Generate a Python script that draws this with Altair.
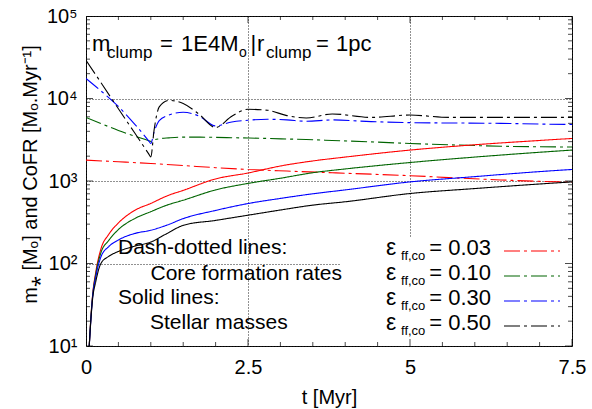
import altair as alt
import pandas as pd

FONT = "Liberation Sans"

EPS = ["0.03", "0.10", "0.30", "0.50"]
COLORS = ["#ff0000", "#006400", "#0000ff", "#000000"]

# Core formation rates (dash-dotted)
T_RATE_RED = [0, 0.5, 1.0, 1.5, 2.0, 2.5, 3.1, 3.8, 4.4, 5.0, 5.6, 6.4, 7.0, 7.5]
RATE_RED = [1790, 1710, 1630, 1540, 1450, 1380, 1320, 1260, 1210, 1160, 1100, 1030, 990, 970]

T_RATE = [0, 0.25, 0.5, 0.75, 0.97, 1.0, 1.05, 1.13, 1.28, 1.5, 1.75, 2.0,
          2.25, 2.5, 2.8, 3.1, 3.4, 3.8, 4.4, 5.0, 5.6, 6.4, 7.0, 7.5]
RATE_GREEN = [5900, 4900, 4100, 3500, 3080, 3020, 3150, 3250, 3330, 3400, 3400, 3380,
              3350, 3320, 3280, 3230, 3180, 3100, 2980, 2850, 2750, 2640, 2600, 2580]
RATE_BLUE = [17500, 12000, 8000, 4900, 3050, 2850, 3900, 5400, 6300, 6800, 6100, 4650,
             5200, 5450, 5600, 5500, 5300, 5500, 5250, 5100, 5050, 5000, 4900, 4850]
RATE_BLACK = [29000, 14800, 7500, 3840, 2120, 1960, 4100, 7900, 9500, 8700, 6400, 4450,
              6100, 7400, 7200, 6200, 5800, 6500, 5900, 6300, 5900, 5900, 5900, 5900]

# Stellar masses (solid)
T_MASS = [0.05, 0.07, 0.1, 0.15, 0.23, 0.35, 0.5, 0.75, 1.0, 1.25, 1.5, 2.0,
          2.5, 3.0, 3.5, 4.0, 5.0, 6.0, 7.0, 7.5]
MASS_RED = [10, 19, 40, 78, 150, 225, 310, 440, 535, 660, 770, 1060,
            1250, 1520, 1750, 1950, 2370, 2750, 3100, 3280]
MASS_GREEN = [10, 19, 39, 74, 135, 190, 258, 350, 425, 510, 585, 780,
              935, 1080, 1260, 1400, 1675, 1950, 2230, 2370]
MASS_BLUE = [10, 18, 38, 68, 120, 160, 193, 231, 253, 292, 350, 440,
             533, 615, 700, 780, 975, 1130, 1300, 1380]
MASS_BLACK = [10, 18, 36, 60, 100, 122, 140, 162, 182, 231, 290, 333,
              385, 445, 510, 560, 705, 810, 920, 975]

X_TICKS = [0, 2.5, 5, 7.5]
X_MINOR = [0.5, 1, 1.5, 2, 3, 3.5, 4, 4.5, 5.5, 6, 6.5, 7]
Y_TICKS = [10, 100, 1000, 10000, 100000]
Y_MINOR = [m * 10 ** k for k in range(1, 5) for m in range(2, 10)]

rows = []
def add(eps, kind, ts, vs):
    for t, v in zip(ts, vs):
        rows.append({"eps": eps, "kind": kind, "key": eps + kind, "t": t, "v": v})

add("0.03", "rate", T_RATE_RED, RATE_RED)
add("0.10", "rate", T_RATE, RATE_GREEN)
add("0.30", "rate", T_RATE, RATE_BLUE)
add("0.50", "rate", T_RATE, RATE_BLACK)
add("0.03", "mass", T_MASS, MASS_RED)
add("0.10", "mass", T_MASS, MASS_GREEN)
add("0.30", "mass", T_MASS, MASS_BLUE)
add("0.50", "mass", T_MASS, MASS_BLACK)
df = pd.DataFrame(rows)

W, H = 486, 330
XS = alt.Scale(domain=[0, 7.5], nice=False, zero=False)
YS = alt.Scale(type="log", domain=[10, 100000], nice=False)

common_axis = dict(grid=True, gridColor="#222222", gridDash=[1, 2], gridWidth=1,
                   ticks=False, tickSize=0, domain=False, labelFont=FONT,
                   titleFont=FONT, titleFontWeight="normal", labelColor="black",
                   titleColor="black", labelFlush=False, labelOverlap=False)
X_AXIS = alt.Axis(values=X_TICKS, labelExpr="toString(datum.value)", labelFontSize=20,
                  labelPadding=11, title="t [Myr]", titleFontSize=20, titlePadding=10,
                  **common_axis)
Y_AXIS = alt.Axis(values=Y_TICKS,
                  labelExpr="'10' + ['⁰','¹','²','³','⁴','⁵'][round(log(datum.value)/LN10)]",
                  labelFontSize=20, labelPadding=9,
                  title="m⁎ [Mₒ] and CoFR [Mₒ.Myr⁻¹]", titleFontSize=20, titlePadding=6,
                  titleY=158, **common_axis)

ONE = pd.DataFrame({"k": [0]})

# opaque key box (hides grid behind the key)
keybox = alt.Chart(ONE).mark_rect(color="white").encode(
    x=alt.value(254), x2=alt.value(485), y=alt.value(222), y2=alt.value(329))

lines = alt.Chart(df).mark_line(interpolate="monotone", clip=True, strokeWidth=1.1).encode(
    x=alt.X("t:Q", scale=XS, axis=X_AXIS),
    y=alt.Y("v:Q", scale=YS, axis=Y_AXIS),
    color=alt.Color("eps:N", scale=alt.Scale(domain=EPS, range=COLORS), legend=None),
    strokeDash=alt.StrokeDash("kind:N", scale=alt.Scale(domain=["rate", "mass"],
                              range=[[16, 4, 3, 4], [1, 0]]), legend=None),
    detail="key:N",
)

xt = pd.DataFrame({"t": X_TICKS + X_MINOR, "len": [14] * len(X_TICKS) + [8] * len(X_MINOR)})
yt = pd.DataFrame({"v": Y_TICKS + Y_MINOR, "len": [14] * len(Y_TICKS) + [8] * len(Y_MINOR)})

tick_layers = []
for ypos in [0, H]:
    tick_layers.append(alt.Chart(xt).mark_tick(orient="vertical", clip=True, color="black", thickness=1).encode(
        x=alt.X("t:Q", scale=XS, axis=X_AXIS), y=alt.value(ypos),
        size=alt.Size("len:Q", scale=None, legend=None)))
for xpos in [0, W]:
    tick_layers.append(alt.Chart(yt).mark_tick(orient="horizontal", clip=True, color="black", thickness=1).encode(
        y=alt.Y("v:Q", scale=YS, axis=Y_AXIS), x=alt.value(xpos),
        size=alt.Size("len:Q", scale=None, legend=None)))

def txt(s, x, y, size, align="left"):
    return alt.Chart(ONE).mark_text(text=s, align=align, baseline="alphabetic", font=FONT,
                                    fontSize=size, color="black").encode(
        x=alt.value(x), y=alt.value(y))

texts = [
    # m_clump = 1E4M_o | r_clump = 1pc
    txt("m", 6, 35, 22), txt("clump", 21, 42, 17), txt("=", 74, 35, 22),
    txt("1E4M", 95, 35, 22), txt("o", 153, 41, 14), txt("|", 164.5, 35, 22),
    txt("r", 171, 35, 22), txt("clump", 180, 42, 17), txt("=", 230, 35, 22),
    txt("1pc", 250, 35, 22),
    # annotations
    txt("Dash-dotted lines:", 32, 238, 21), txt("Core formation rates", 64.5, 263.5, 21),
    txt("Solid lines:", 32, 288, 21), txt("Stellar masses", 64, 313, 21),
]

key_layers = []
for i, (e, c) in enumerate(zip(EPS, COLORS)):
    base = 239 + 25 * i
    key_layers += [txt("ε", 300, base, 23), txt("ff,co", 315, base + 5, 13),
                   txt("= " + e, 405, base, 22, align="right")]
    key_layers.append(alt.Chart(ONE).mark_rule(color=c, strokeWidth=1.1, strokeDash=[16, 4, 3, 4]).encode(
        x=alt.value(418), x2=alt.value(474), y=alt.value(base - 4)))

chart = alt.layer(keybox, lines, *tick_layers, *texts, *key_layers).properties(
    width=W, height=H,
    autosize=alt.AutoSizeParams(type="none"),
    padding={"left": 86, "top": 16, "right": 20, "bottom": 63},
    background="white",
).configure_view(stroke="black", strokeWidth=1)

chart.save("out.html", embed_options={"renderer": "svg", "actions": False})
